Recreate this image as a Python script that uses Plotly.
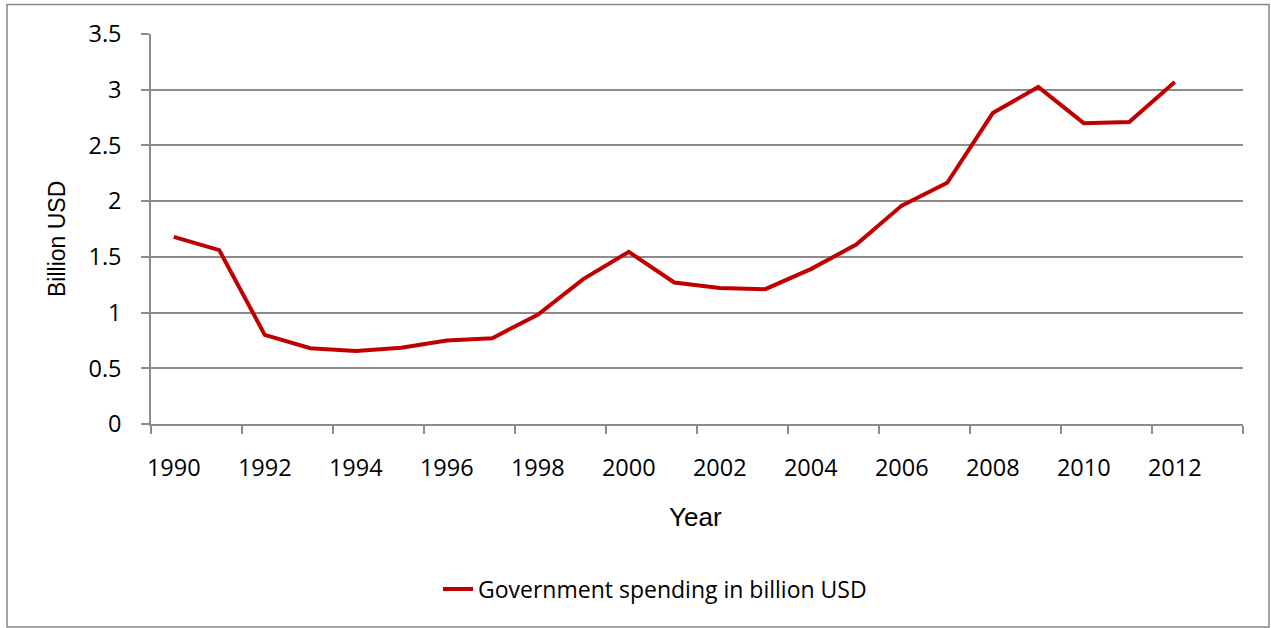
import plotly.graph_objects as go

years = list(range(1990, 2013))
spending = [1.68, 1.56, 0.80, 0.68, 0.655, 0.685, 0.75, 0.77, 0.98, 1.30,
            1.545, 1.27, 1.22, 1.21, 1.39, 1.61, 1.96, 2.165, 2.79, 3.025,
            2.70, 2.71, 3.07]
series_name = "Government spending in billion USD"
label_years = list(range(1990, 2013, 2))
boundary_ticks = [y - 0.5 for y in range(1990, 2015, 2)]
y_ticks = [0, 0.5, 1, 1.5, 2, 2.5, 3, 3.5]

W, H = 1271, 628
L, R, T, B = 151, 1243, 34, 424
GRID = "#8c8c8c"
TICKFONT = dict(family="Open Sans", size=23.5, color="#000000")
LEGFONT = dict(family="Open Sans", size=23, color="#000000")


def px_x(px):
    return (px - L) / (R - L)


def px_y(py):
    return (B - py) / (B - T)


fig = go.Figure()
fig.add_trace(go.Scatter(
    x=years, y=spending, mode="lines", name=series_name,
    line=dict(color="#C00000", width=4),
))

fig.update_layout(
    width=W, height=H,
    margin=dict(l=L, r=W - R, t=T, b=H - B, pad=0),
    paper_bgcolor="white", plot_bgcolor="white",
    showlegend=True,
    legend=dict(orientation="h", x=px_x(438), y=px_y(589), xanchor="left",
                yanchor="middle", font=LEGFONT, bgcolor="rgba(0,0,0,0)",
                itemwidth=30),
    xaxis=dict(
        range=[1989.5, 2013.5], tickmode="array", tickvals=label_years,
        ticktext=[str(y) for y in label_years], ticks="", showgrid=False,
        showline=True, linecolor=GRID, linewidth=1.5, zeroline=False,
        tickfont=TICKFONT, ticklabelstandoff=22,
        minor=dict(tickmode="array", tickvals=boundary_ticks, ticks="outside",
                   ticklen=8, tickwidth=1.5, tickcolor=GRID, showgrid=False),
    ),
    yaxis=dict(
        range=[0, 3.5], tickmode="array", tickvals=y_ticks,
        ticktext=[f"{v:g}" for v in y_ticks], ticks="outside", ticklen=8,
        tickwidth=1.5, tickcolor=GRID, showgrid=True, gridcolor=GRID,
        gridwidth=1.5, showline=True, linecolor=GRID, linewidth=1.5,
        zeroline=False, tickfont=TICKFONT, ticklabelstandoff=15,
    ),
    annotations=[
        dict(text="Billion USD", xref="paper", yref="paper", x=px_x(57),
             y=px_y(239), textangle=-90, showarrow=False,
             font=dict(family="Liberation Sans, Arial", size=23, color="#000000"),
             xanchor="center", yanchor="middle"),
        dict(text="Year", xref="paper", yref="paper", x=px_x(695),
             y=px_y(517), showarrow=False,
             font=dict(family="Liberation Sans, Arial", size=26, color="#000000"),
             xanchor="center", yanchor="middle"),
    ],
    shapes=[
        dict(type="rect", xref="paper", yref="paper", x0=px_x(7), x1=px_x(1269),
             y0=px_y(627), y1=px_y(4.5), line=dict(color="#878787", width=1.5),
             layer="below"),
    ],
)

fig.write_html("out.html")
